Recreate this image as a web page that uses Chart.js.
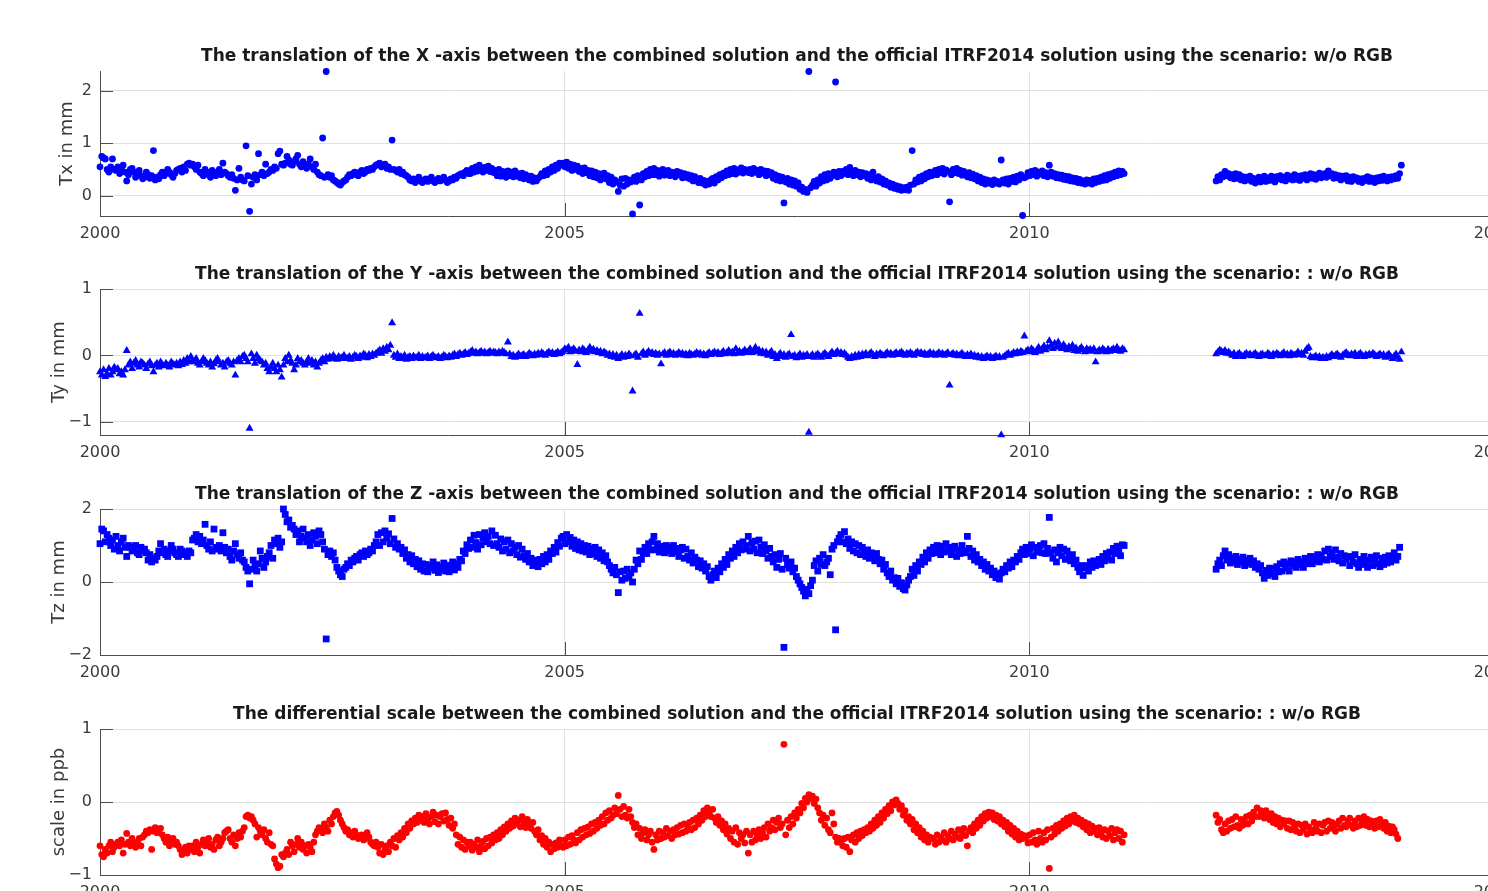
<!DOCTYPE html>
<html>
<head>
<meta charset="utf-8">
<script src="https://cdn.jsdelivr.net/npm/chart.js@4.4.0/dist/chart.umd.min.js"></script>
<style>
html, body { margin: 0; padding: 0; background: #fff; overflow: hidden; width: 1488px; height: 891px; }
canvas { position: absolute; left: 0; }
</style>
</head>
<body>
<canvas id="c1" width="1594" height="211" style="top:45px"></canvas>
<canvas id="c2" width="1594" height="212" style="top:263px"></canvas>
<canvas id="c3" width="1594" height="212" style="top:483px"></canvas>
<canvas id="c4" width="1594" height="212" style="top:703px"></canvas>
<script>
// weekly solutions, two spans: 2000.0 - 2011.0 and 2012.0 - 2014.0
var firstStart = 2000.0;
var secondStart = 2012.01;
var weekStep = 7 / 365.25;

var xTicks = [2000, 2005, 2010, 2015];
var txTicks = [0, 1, 2];
var tyTicks = [-1, 0, 1];
var tzTicks = [-2, 0, 2];
var scaleTicks = [-1, 0, 1];

// Tx in mm
var txFirst = [
  .55,.75,.72,.7,.5,.45,.55,.7,.5,.48,.55,.42,.5,.58,.45,.28,.4,.5,.52,.45,.35,.4,.48,.38,.32,.35,.45,.4,.33,.38,.86,.3,.35,.32,.4,.45,.38,.42,.5,.45,.4,.35,.42,.48,.5,.52,.45,.55,.48,.6,.62,.58,
  .6,.55,.5,.58,.45,.42,.38,.5,.45,.4,.35,.48,.42,.38,.45,.5,.4,.62,.45,.42,.38,.35,.4,.33,.1,.3,.52,.35,.3,.28,.95,.38,-.3,.22,.35,.4,.3,.8,.4,.45,.38,.6,.42,.45,.5,.48,.55,.52,.8,.85,.6,.58,
  .62,.75,.68,.6,.58,.65,.7,.77,.6,.55,.65,.58,.52,.6,.7,.55,.5,.6,.45,.4,.38,1.1,.35,2.37,.4,.35,.38,.3,.28,.25,.22,.2,.25,.28,.3,.35,.4,.38,.42,.45,.4,.38,.45,.48,.42,.45,.5,.48,.52,.5,.55,.58,
  .6,.62,.55,.58,.6,.52,.55,.5,1.06,.5,.48,.45,.5,.42,.45,.4,.38,.35,.3,.28,.32,.25,.3,.35,.28,.25,.3,.32,.27,.3,.35,.28,.25,.3,.33,.28,.3,.35,.3,.25,.28,.32,.3,.35,.33,.38,.4,.42,.38,.45,.48,.42,
  .42,.52,.45,.55,.47,.58,.5,.45,.54,.48,.56,.46,.52,.44,.48,.38,.5,.37,.46,.4,.35,.47,.38,.45,.36,.47,.37,.42,.34,.43,.32,.4,.36,.3,.37,.27,.34,.28,.33,.36,.42,.38,.47,.4,.5,.45,.55,.48,.58,.52,.62,.58,
  .62,.55,.64,.52,.6,.48,.58,.5,.56,.46,.52,.42,.53,.44,.48,.38,.47,.36,.45,.34,.42,.3,.4,.43,.32,.38,.25,.35,.22,.3,.26,.08,.2,.32,.18,.33,.22,.3,.26,-.35,.35,.27,.38,-.18,.3,.42,.36,.46,.38,.5,.4,.52,
  .4,.48,.37,.46,.5,.39,.44,.48,.38,.45,.42,.36,.46,.4,.44,.34,.42,.35,.4,.32,.38,.28,.36,.3,.25,.33,.24,.29,.2,.27,.22,.3,.33,.24,.36,.3,.4,.34,.43,.38,.47,.4,.5,.42,.52,.41,.49,.45,.53,.43,.5,.46,
  .44,.5,.42,.52,.45,.48,.4,.5,.43,.47,.38,.46,.4,.44,.33,.4,.3,.37,.28,.35,-.14,.26,.33,.22,.3,.2,.28,.18,.24,.12,.16,.08,.12,.06,2.37,.15,.2,.27,.18,.3,.24,.36,.28,.4,.3,.42,.33,.38,.45,2.17,.36,.46,
  .38,.46,.42,.5,.4,.54,.44,.38,.48,.4,.45,.36,.44,.38,.42,.33,.4,.3,.45,.34,.28,.36,.26,.32,.22,.28,.2,.24,.16,.22,.14,.19,.12,.17,.1,.15,.11,.16,.1,.2,.86,.22,.3,.26,.35,.28,.38,.32,.42,.36,.45,.38,
  .42,.48,.4,.5,.44,.52,.41,.49,.46,-.12,.4,.5,.44,.52,.42,.48,.39,.46,.4,.36,.44,.34,.41,.32,.38,.28,.35,.25,.32,.22,.3,.24,.28,.21,.3,.24,.27,.22,.68,.3,.24,.32,.22,.33,.27,.35,.26,.37,.3,.4,-.38,.34,
  .36,.44,.38,.46,.4,.48,.37,.45,.41,.47,.38,.44,.36,.58,.45,.37,.42,.34,.4,.33,.39,.31,.37,.3,.36,.28,.34,.27,.33,.25,.31,.24,.28,.22,.3,.24,.29,.22,.32,.25,.33,.27,.35,.29,.38,.3,.4,.33,.42,.36,.45,.38,.47,.4,.46,.42
];
var txSecond = [
  .28,.36,.3,.4,.36,.46,.38,.42,.34,.4,.32,.42,.33,.4,.3,.36,.28,.35,.3,.37,.27,.33,.24,.31,.35,.26,.33,.37,.27,.34,
  .29,.37,.3,.26,.36,.32,.38,.3,.35,.28,.39,.32,.36,.3,.4,.31,.37,.29,.38,.33,.4,.3,.38,.42,.33,.4,.31,.38,.43,.34,
  .38,.42,.35,.47,.38,.42,.33,.4,.34,.38,.3,.37,.33,.38,.28,.35,.27,.36,.31,.34,.27,.32,.25,.33,.29,.36,.27,.34,.28,.25,
  .34,.28,.35,.29,.37,.31,.28,.35,.3,.36,.32,.38,.33,.42,.58
];

// Ty in mm
var tyFirst = [
  -.25,-.3,-.22,-.32,-.28,-.2,-.3,-.25,-.18,-.22,-.2,-.28,-.25,-.3,-.22,.07,-.15,-.1,-.2,-.12,-.08,-.15,-.18,-.1,-.12,-.15,-.2,-.13,-.1,-.16,-.25,-.15,-.12,-.18,-.1,-.14,-.16,-.12,-.15,-.18,-.1,-.13,-.15,-.12,-.16,-.1,-.14,-.08,-.12,-.05,-.1,-.02,
  -.08,-.1,-.05,-.12,-.15,-.1,-.05,-.08,-.12,-.15,-.1,-.18,-.13,-.08,-.05,-.1,-.15,-.12,-.18,-.1,-.08,-.12,-.15,-.1,-.3,-.08,-.05,-.1,-.02,0,-.05,-.1,-1.1,.02,-.05,-.12,0,-.05,-.08,-.1,-.15,-.12,-.2,-.25,-.18,-.12,-.2,-.25,-.15,-.22,-.33,-.15,
  -.05,-.1,0,-.08,-.12,-.22,-.15,-.05,-.1,-.08,-.12,-.15,-.1,-.05,-.12,-.08,-.15,-.1,-.18,-.12,-.08,-.05,-.1,-.03,-.06,-.02,-.05,0,-.04,-.06,-.02,-.05,-.03,0,-.04,-.05,-.02,-.06,-.03,0,-.02,-.05,-.01,-.03,.02,0,-.04,.01,-.02,.02,0,.03,
  .05,.08,.03,.1,.06,.12,.08,.15,.49,0,-.03,.02,-.05,-.02,-.04,0,-.06,-.03,-.02,-.05,-.01,-.04,-.03,0,-.05,-.02,-.04,-.03,-.01,-.05,-.02,0,-.03,-.04,-.02,-.05,-.03,0,-.02,-.04,-.01,-.03,0,.02,-.02,.01,.03,0,.02,.04,.01,.03,
  .05,.07,.03,.05,.02,.04,.06,.03,.05,.02,.04,.06,.03,.05,.04,.02,.05,.03,.06,.04,.02,.2,.02,-.02,0,-.03,-.01,.02,-.02,0,.01,-.02,0,.03,.01,-.01,.02,0,.03,.01,.04,.02,0,.03,.05,.02,.04,.01,.03,.05,.02,.04,
  .06,.1,.08,.12,.05,.08,.1,.06,-.14,.08,.05,.1,.07,.04,.08,.12,.06,.09,.05,.07,.04,.06,.02,.05,.03,0,.02,-.02,.01,-.03,0,-.05,-.02,.01,-.03,0,-.02,.02,-.01,-.54,0,.02,-.03,.63,.02,.05,0,.03,.06,.02,.04,.01,
  .03,0,.02,-.13,.02,.04,0,.03,.05,.01,.03,0,.02,.04,.01,.03,0,.02,-.01,.03,.01,0,.02,.04,.01,.03,0,.02,-.01,.02,.04,.01,.03,.05,.02,.04,.01,.03,.06,.02,.04,.07,.03,.05,.02,.1,.04,.06,.03,.05,.08,.04,
  .06,.1,.04,.07,.12,.05,.08,.03,.06,.02,.05,0,.03,.06,-.02,.01,-.05,0,.03,-.02,.01,-.03,0,.02,.31,-.02,0,-.04,-.01,.02,-.03,0,-.02,.01,-1.16,-.02,.01,-.03,0,.02,-.01,-.03,.01,.03,0,-.02,.02,.05,.01,.03,.06,.02,
  .04,.01,.03,0,-.03,-.05,-.02,-.04,0,-.03,.01,-.02,.02,0,.03,-.01,.02,.04,.01,-.02,.02,0,.03,.01,-.01,.02,.04,.01,.03,0,.02,.04,.01,.03,.05,.02,0,.03,.01,.04,.02,0,.03,.05,.02,.04,.01,.03,0,.02,.04,.01,
  .03,0,.02,.04,.01,.03,0,.02,.04,-.45,.01,.03,0,.02,-.01,.01,.03,0,-.02,.01,-.01,.02,-.02,0,-.03,-.01,-.04,-.02,-.05,-.03,-.01,-.04,-.02,-.05,-.03,-.01,-.04,-.02,-1.2,-.03,-.01,.01,.03,0,.02,.04,.02,.05,.03,.06,.04,.29,
  .06,.08,.05,.1,.07,.04,.08,.12,.06,.1,.14,.08,.12,.22,.15,.1,.18,.12,.2,.14,.1,.16,.12,.08,.13,.1,.15,.07,.11,.06,.09,.12,.08,.05,.1,.07,.09,.06,.1,-.1,.05,.08,.06,.1,.07,.05,.09,.06,.08,.1,.07,.12,.08,.06,.1,.08
];
var tySecond = [
  .02,.05,.08,.06,.04,.07,.03,.05,.02,0,.03,-.02,.01,.03,0,-.02,.01,.03,0,.02,-.01,.01,.03,0,-.02,.01,.02,-.01,0,.03,
  .01,-.02,.02,0,.03,.01,-.01,.02,.04,0,.02,-.01,.03,.01,0,.02,.05,.01,.03,0,.06,.1,.12,-.02,-.04,-.03,-.01,-.04,-.02,-.05,
  -.03,-.05,-.02,-.04,-.01,.01,-.02,0,.02,-.01,-.03,0,.02,.04,.01,-.01,.02,0,.03,-.02,.01,.03,0,-.02,.01,-.01,.02,0,.03,.01,
  -.02,0,.02,-.01,.01,-.03,0,.02,-.02,-.05,-.01,.02,-.03,-.06,.05
];

// Tz in mm
var tzFirst = [
  1.05,1.45,1.4,1.1,1.3,1.2,1,1.15,.9,1.25,1,.85,1.1,1.2,.95,.7,1,.95,.85,.9,1,.8,.75,.95,.85,.9,.8,.6,.75,.55,.65,.6,.7,.85,1.05,.8,.9,.75,.7,.85,1,.9,.8,.75,.7,.9,.85,.75,.8,.7,.85,.8,
  1.15,1.2,1.3,1.1,1.25,1.05,1.15,1.58,1,.9,1.1,.85,1.45,.95,.9,1,.85,1.35,.95,.8,.9,.7,.6,.85,1.05,.75,.65,.8,.6,.55,.4,.3,-.05,.35,.6,.45,.3,.5,.85,.65,.4,.55,.7,.8,1,.65,1.15,1.05,1.2,.95,1.1,2,
  1.85,1.65,1.7,1.5,1.55,1.45,1.3,1.4,1.1,1.25,1.45,1.2,1.1,1.3,1,1.15,1.35,1.25,1.05,1.4,1.3,1.1,.9,-1.56,.75,.85,.7,.8,.6,.4,.3,.2,.15,.35,.4,.5,.45,.6,.55,.65,.7,.6,.75,.8,.7,.85,.75,.8,.9,.85,1,1.1,
  1.3,1,1.35,1.1,1.4,1.2,1.32,1.05,1.74,1.18,.95,1.05,.9,.95,.78,.88,.65,.75,.55,.72,.5,.62,.42,.58,.35,.5,.3,.48,.28,.45,.38,.55,.32,.47,.26,.42,.35,.52,.3,.46,.28,.4,.55,.33,.5,.4,.62,.58,.85,.78,1.02,.92,
  1.15,.95,1.28,1.08,.9,1.3,1.02,1.2,1.35,1.1,1.25,1.05,1.4,1,1.28,1.05,.95,1.18,.85,1.1,.9,1.15,.8,1.05,.85,.95,.75,1,.68,.9,.72,.62,.78,.55,.65,.45,.6,.5,.42,.62,.5,.7,.55,.75,.62,.85,.78,.95,.82,1.08,.98,1.2,
  1.25,1.05,1.3,1.1,1.22,.98,1.15,.92,1.1,.88,1.05,.85,1,.82,.98,.75,.92,.78,.95,.7,.88,.65,.8,.58,.72,.55,.45,.35,.25,.4,.2,-.29,.28,.05,.3,.1,.35,.15,.25,0,.35,.6,.5,.85,.62,.8,.95,.78,1.05,.88,1.1,1.25,
  .88,1.05,.82,.98,.92,.8,1,.85,.95,.78,1,.82,.92,.7,.88,.95,.65,.9,.7,.6,.8,.52,.68,.6,.42,.58,.38,.5,.3,.42,.15,.05,.2,.3,.12,.38,.28,.5,.4,.62,.48,.75,.65,.85,.7,.95,.8,1.05,.88,1.1,.9,1,
  1.25,.85,1.08,.9,1.12,.8,1.15,.95,.78,1.02,.85,.65,.92,.7,.55,.75,.4,.62,.78,.35,-1.79,.65,.48,.38,.55,.28,.38,.15,.05,-.05,-.15,-.25,-.38,-.2,-.32,-.1,.05,.45,.58,.3,.65,.48,.75,.45,.55,.65,.2,.9,1,-1.31,1.1,1.2,
  1.3,1.1,1.38,1.05,1.18,.92,1.1,.85,1.05,.8,1,.75,.95,.82,.7,.88,.65,.8,.7,.58,.78,.62,.5,.6,.35,.48,.25,.15,.3,.05,.12,-.05,.1,-.12,-.02,-.18,-.22,-.08,.05,.15,.35,.18,.45,.3,.55,.48,.68,.55,.8,.65,.88,.78,
  .95,.8,1,.88,.75,.98,.82,1.05,.85,.95,.75,.9,.98,.7,.88,.78,1,.85,.8,1.25,.92,.7,.85,.6,.75,.55,.62,.45,.55,.35,.48,.3,.38,.2,.3,.12,.22,.08,.25,.35,.28,.45,.38,.55,.42,.6,.55,.7,.62,.8,.9,.75,
  .95,.78,.9,1.02,.72,.95,.82,.88,1,.8,1.05,.78,.92,1.77,.8,.65,.88,.55,.8,.95,.72,.9,.62,.85,.7,.58,.75,.5,.6,.4,.28,.45,.18,.38,.45,.3,.55,.4,.58,.45,.52,.62,.48,.7,.58,.78,.65,.82,.6,.92,.78,.98,.85,.72,1.02,1
];
var tzSecond = [
  .35,.5,.6,.45,.72,.85,.6,.75,.52,.65,.55,.7,.48,.62,.55,.68,.45,.6,.52,.65,.48,.58,.4,.5,.35,.45,.25,.1,.32,.18,
  .38,.22,.35,.15,.42,.28,.5,.3,.55,.38,.5,.3,.58,.45,.55,.4,.62,.48,.55,.4,.65,.5,.6,.7,.5,.68,.58,.75,.55,.72,
  .62,.85,.6,.9,.7,.8,.62,.88,.68,.58,.78,.52,.72,.62,.68,.45,.7,.55,.75,.5,.4,.62,.48,.7,.55,.4,.6,.68,.45,.62,
  .72,.5,.42,.65,.48,.68,.52,.72,.55,.62,.8,.6,.7,.95
];

// scale in ppb
var scaleFirst = [
  -.6,-.72,-.75,-.65,-.7,-.6,-.55,-.68,-.62,-.58,-.55,-.6,-.52,-.7,-.58,-.43,-.55,-.6,-.5,-.58,-.62,-.55,-.5,-.6,-.48,-.45,-.4,-.42,-.38,-.65,-.4,-.35,-.42,-.38,-.36,-.45,-.5,-.55,-.48,-.6,-.52,-.5,-.58,-.55,-.6,-.65,-.72,-.68,-.62,-.7,-.6,-.65,
  -.6,-.68,-.55,-.62,-.7,-.58,-.52,-.6,-.55,-.5,-.62,-.58,-.65,-.52,-.48,-.6,-.55,-.5,-.42,-.4,-.38,-.5,-.55,-.45,-.6,-.5,-.42,-.48,-.4,-.35,-.2,-.18,-.22,-.2,-.25,-.3,-.48,-.35,-.4,-.45,-.38,-.5,-.55,-.42,-.58,-.6,-.78,-.85,-.9,-.88,-.72,-.75,
  -.7,-.65,-.72,-.55,-.6,-.68,-.58,-.5,-.62,-.55,-.65,-.6,-.7,-.58,-.62,-.68,-.55,-.45,-.4,-.35,-.38,-.42,-.3,-.35,-.4,-.25,-.3,-.2,-.15,-.13,-.18,-.25,-.3,-.35,-.4,-.38,-.45,-.42,-.48,-.4,-.45,-.5,-.48,-.45,-.52,-.5,-.42,-.48,-.55,-.58,-.6,-.55,
  -.62,-.7,-.58,-.72,-.65,-.6,-.68,-.55,-.6,-.5,-.62,-.46,-.52,-.42,-.48,-.36,-.42,-.3,-.36,-.26,-.3,-.22,-.28,-.18,-.25,-.2,-.28,-.16,-.24,-.3,-.2,-.14,-.27,-.18,-.3,-.2,-.16,-.26,-.15,-.24,-.32,-.22,-.36,-.3,-.45,-.58,-.48,-.62,-.52,-.65,-.55,-.6,
  -.55,-.66,-.58,-.62,-.52,-.68,-.6,-.54,-.64,-.5,-.6,-.48,-.56,-.45,-.52,-.42,-.5,-.38,-.45,-.34,-.4,-.3,-.36,-.26,-.33,-.22,-.3,-.25,-.34,-.2,-.28,-.35,-.24,-.3,-.36,-.28,-.4,-.45,-.38,-.52,-.46,-.58,-.5,-.62,-.55,-.68,-.58,-.64,-.56,-.62,-.52,-.6,
  -.62,-.52,-.6,-.48,-.58,-.46,-.52,-.56,-.42,-.52,-.38,-.48,-.36,-.45,-.34,-.43,-.3,-.4,-.28,-.36,-.25,-.32,-.2,-.3,-.15,-.25,-.12,-.22,-.18,-.08,-.16,.09,-.1,-.2,-.06,-.18,-.22,-.1,-.2,-.28,-.35,-.3,-.45,-.36,-.5,-.42,-.38,-.52,-.45,-.4,-.55,-.65,
  -.45,-.52,-.4,-.5,-.42,-.48,-.36,-.46,-.4,-.5,-.38,-.45,-.35,-.44,-.32,-.42,-.3,-.4,-.33,-.28,-.38,-.25,-.35,-.22,-.3,-.18,-.25,-.12,-.2,-.08,-.15,-.2,-.1,-.22,-.28,-.2,-.32,-.26,-.38,-.3,-.44,-.36,-.5,-.4,-.55,-.35,-.58,-.42,-.5,-.45,-.56,-.4,
  -.7,-.45,-.55,-.4,-.52,-.45,-.38,-.5,-.42,-.35,-.48,-.3,-.4,-.35,-.25,-.38,-.28,-.22,-.35,-.3,.79,-.45,-.25,-.35,-.2,-.3,-.15,-.22,-.1,-.15,-.02,-.08,.05,0,.1,.05,.08,-.02,.04,-.08,-.15,-.25,-.18,-.32,-.22,-.38,-.42,-.15,-.3,-.48,-.55,-.5,
  -.55,-.6,-.5,-.62,-.48,-.68,-.52,-.45,-.55,-.42,-.5,-.4,-.46,-.38,-.42,-.35,-.4,-.3,-.36,-.25,-.32,-.2,-.28,-.15,-.22,-.1,-.16,-.05,-.12,0,-.04,.03,-.02,-.1,-.05,-.18,-.12,-.25,-.2,-.3,-.24,-.38,-.3,-.42,-.35,-.48,-.4,-.52,-.45,-.55,-.48,-.5,
  -.5,-.58,-.45,-.55,-.48,-.52,-.42,-.55,-.46,-.5,-.4,-.52,-.44,-.48,-.38,-.5,-.42,-.36,-.46,-.6,-.4,-.35,-.42,-.3,-.36,-.25,-.32,-.2,-.26,-.16,-.22,-.14,-.2,-.15,-.24,-.18,-.26,-.2,-.3,-.25,-.34,-.28,-.4,-.32,-.44,-.36,-.48,-.4,-.52,-.44,-.5,-.46,
  -.48,-.56,-.45,-.55,-.42,-.52,-.58,-.4,-.5,-.55,-.42,-.52,-.38,-.91,-.48,-.36,-.44,-.32,-.4,-.3,-.36,-.26,-.33,-.22,-.3,-.2,-.26,-.18,-.28,-.22,-.3,-.25,-.34,-.28,-.38,-.3,-.42,-.33,-.4,-.36,-.45,-.35,-.42,-.48,-.38,-.5,-.4,-.46,-.36,-.52,-.42,-.38,-.5,-.4,-.55,-.45
];
var scaleSecond = [
  -.18,-.28,-.24,-.38,-.42,-.3,-.4,-.26,-.36,-.24,-.34,-.2,-.32,-.36,-.24,-.32,-.28,-.2,-.3,-.18,-.26,-.14,-.2,-.08,-.2,-.12,-.16,-.22,-.12,-.18,
  -.24,-.16,-.28,-.2,-.3,-.22,-.34,-.25,-.3,-.26,-.36,-.26,-.38,-.28,-.34,-.4,-.3,-.42,-.32,-.38,-.3,-.44,-.34,-.38,-.42,-.28,-.36,-.4,-.3,-.42,
  -.32,-.28,-.4,-.26,-.36,-.28,-.34,-.4,-.3,-.26,-.36,-.22,-.32,-.34,-.26,-.22,-.32,-.36,-.26,-.34,-.22,-.32,-.26,-.2,-.32,-.24,-.34,-.26,-.3,-.36,
  -.26,-.34,-.24,-.32,-.36,-.28,-.4,-.33,-.42,-.34,-.38,-.44,-.5
];

var titles = [
  'The translation of the X -axis between the combined solution and the official ITRF2014 solution using the scenario: w/o RGB',
  'The translation of the Y -axis between the combined solution and the official ITRF2014 solution using the scenario: : w/o RGB',
  'The translation of the Z -axis between the combined solution and the official ITRF2014 solution using the scenario: : w/o RGB',
  'The differential scale between the combined solution and the official ITRF2014 solution using the scenario: : w/o RGB'
];

function toPoints(first, second) {
  var pts = [];
  first.forEach(function (v, i) { pts.push({ x: firstStart + i * weekStep, y: v }); });
  second.forEach(function (v, i) { pts.push({ x: secondStart + i * weekStep, y: v }); });
  return pts;
}

function tickText(v) {
  return v < 0 ? '\u2212' + Math.abs(v) : String(v);
}

// MATLAB style ticks pointing into the axes
var innerTicks = {
  id: 'innerTicks',
  beforeDatasetsDraw: function (chart) {
    var ctx = chart.ctx, a = chart.chartArea;
    var xs = chart.scales.x, ys = chart.scales.y;
    ctx.save();
    ctx.strokeStyle = '#4d4d4d';
    ctx.lineWidth = 1;
    ctx.beginPath();
    ys.ticks.forEach(function (t) {
      var py = Math.round(ys.getPixelForValue(t.value)) + 0.5;
      ctx.moveTo(a.left, py);
      ctx.lineTo(a.left + 13, py);
    });
    xs.ticks.forEach(function (t) {
      var px = Math.round(xs.getPixelForValue(t.value)) + 0.5;
      ctx.moveTo(px, a.bottom);
      ctx.lineTo(px, a.bottom - 13);
    });
    ctx.stroke();
    ctx.restore();
  }
};

function makePanel(id, opt) {
  return new Chart(document.getElementById(id), {
    type: 'scatter',
    data: {
      datasets: [{
        data: opt.points,
        pointStyle: opt.style,
        pointRadius: opt.radius,
        pointHoverRadius: opt.radius,
        backgroundColor: opt.color,
        borderColor: opt.color,
        borderWidth: 0,
        clip: false
      }]
    },
    options: {
      responsive: false,
      animation: false,
      devicePixelRatio: 1,
      layout: { padding: { left: 0, right: 100, top: 0, bottom: 0 } },
      plugins: {
        legend: { display: false },
        tooltip: { enabled: false },
        title: {
          display: true,
          fullSize: false,
          text: opt.title,
          color: '#1a1a1a',
          font: { family: 'DejaVu Sans', size: 17, weight: 'bold', lineHeight: 1.1 },
          padding: { top: 2, bottom: 5.3 }
        }
      },
      scales: {
        x: {
          type: 'linear',
          min: 2000,
          max: 2015,
          afterBuildTicks: function (s) { s.ticks = xTicks.map(function (v) { return { value: v }; }); },
          afterFit: function (s) { s.height = 40; },
          grid: { color: '#e0e0e0', drawTicks: false, tickLength: 0 },
          border: { color: '#4d4d4d' },
          ticks: {
            padding: 8, maxRotation: 0, color: '#3a3a3a',
            font: { family: 'DejaVu Sans', size: 16 },
            callback: function (v) { return String(v); }
          }
        },
        y: {
          min: opt.min,
          max: opt.max,
          afterBuildTicks: function (s) { s.ticks = opt.ticks.map(function (v) { return { value: v }; }); },
          afterFit: function (s) { s.width = 100; },
          grid: { color: '#e0e0e0', drawTicks: false, tickLength: 0 },
          border: { color: '#4d4d4d' },
          ticks: {
            padding: 8, color: '#3a3a3a',
            font: { family: 'DejaVu Sans', size: 16 },
            callback: function (v) { return tickText(v); }
          },
          title: {
            display: true,
            text: opt.label,
            color: '#3a3a3a',
            font: { family: 'DejaVu Sans', size: 18 },
            padding: { top: opt.labelPad, bottom: 0 }
          }
        }
      }
    },
    plugins: [innerTicks]
  });
}

makePanel('c1', { points: toPoints(txFirst, txSecond), style: 'circle', radius: 3.4, color: '#0000ff',
  title: titles[0], label: 'Tx in mm', min: -0.39, max: 2.38, ticks: txTicks, labelPad: 57 });
makePanel('c2', { points: toPoints(tyFirst, tySecond), style: 'triangle', radius: 4.6, color: '#0000ff',
  title: titles[1], label: 'Ty in mm', min: -1.2, max: 1, ticks: tyTicks, labelPad: 49 });
makePanel('c3', { points: toPoints(tzFirst, tzSecond), style: 'rect', radius: 4.8, color: '#0000ff',
  title: titles[2], label: 'Tz in mm', min: -2, max: 2, ticks: tzTicks, labelPad: 49 });
makePanel('c4', { points: toPoints(scaleFirst, scaleSecond), style: 'circle', radius: 3.4, color: '#ff0000',
  title: titles[3], label: 'scale in ppb', min: -1, max: 1, ticks: scaleTicks, labelPad: 49 });
</script>
</body>
</html>
